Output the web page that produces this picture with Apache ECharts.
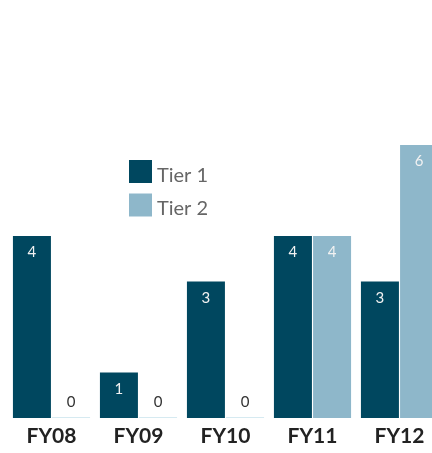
<!DOCTYPE html>
<html><head><meta charset="utf-8">
<script src="https://cdn.jsdelivr.net/npm/echarts@6/dist/echarts.min.js"></script>
<style>html,body{margin:0;padding:0;background:#fff}#c{width:432px;height:453px}</style>
</head><body><div id="c"></div>
<script>
const categories = ['FY08','FY09','FY10','FY11','FY12'];
const tier1 = [4,1,3,4,3];
const tier2 = [0,0,0,4,6];
const seriesNames = ['Tier 1','Tier 2'];
const colors = ['#00475f','#8eb7ca'];
const FONT = 'Lato';

function mkData(vals){
  return vals.map(v => v === 0 ? {
    value: v,
    itemStyle: {color: '#d6eaf1'},
    label: {position: 'top', color: '#333', distance: 7}
  } : {value: v});
}

const chart = echarts.init(document.getElementById('c'), null, {renderer:'canvas'});
chart.setOption({
  animation: false,
  textStyle: {fontFamily: FONT},
  grid: {left: 8, width: 435, top: 145, bottom: 35, containLabel: false, outerBoundsMode: 'none'},
  legend: {
    orient: 'vertical', left: 129, top: 160, padding: 0, itemWidth: 23, itemHeight: 23, itemGap: 8,
    icon: 'rect',
    formatter: n => '{t|' + n + '}',
    textStyle: {
      fontSize: 20, color: '#666', fontFamily: FONT,
      rich: {t: {fontSize: 20, color: '#666', fontFamily: FONT, padding: [8,0,0,0]}}
    },
    data: seriesNames
  },
  xAxis: {
    type: 'category', data: categories,
    axisLine: {show: false}, axisTick: {show: false},
    axisLabel: {fontSize: 21, fontWeight: 'bold', color: '#222', margin: 8}
  },
  yAxis: {type: 'value', min: 0, max: 6, show: false, splitLine: {show: false}},
  series: [
    {name: seriesNames[0], type: 'bar', data: mkData(tier1), barWidth: 38, barGap: '3%', barMinHeight: 1,
     itemStyle: {color: colors[0]},
     label: {show: true, position: 'insideTop', distance: 9, color: '#f2f2f2', fontSize: 15}},
    {name: seriesNames[1], type: 'bar', data: mkData(tier2), barWidth: 38, barGap: '3%', barMinHeight: 1,
     itemStyle: {color: colors[1]},
     label: {show: true, position: 'insideTop', distance: 9, color: '#f2f2f2', fontSize: 15}}
  ]
});
</script></body></html>
